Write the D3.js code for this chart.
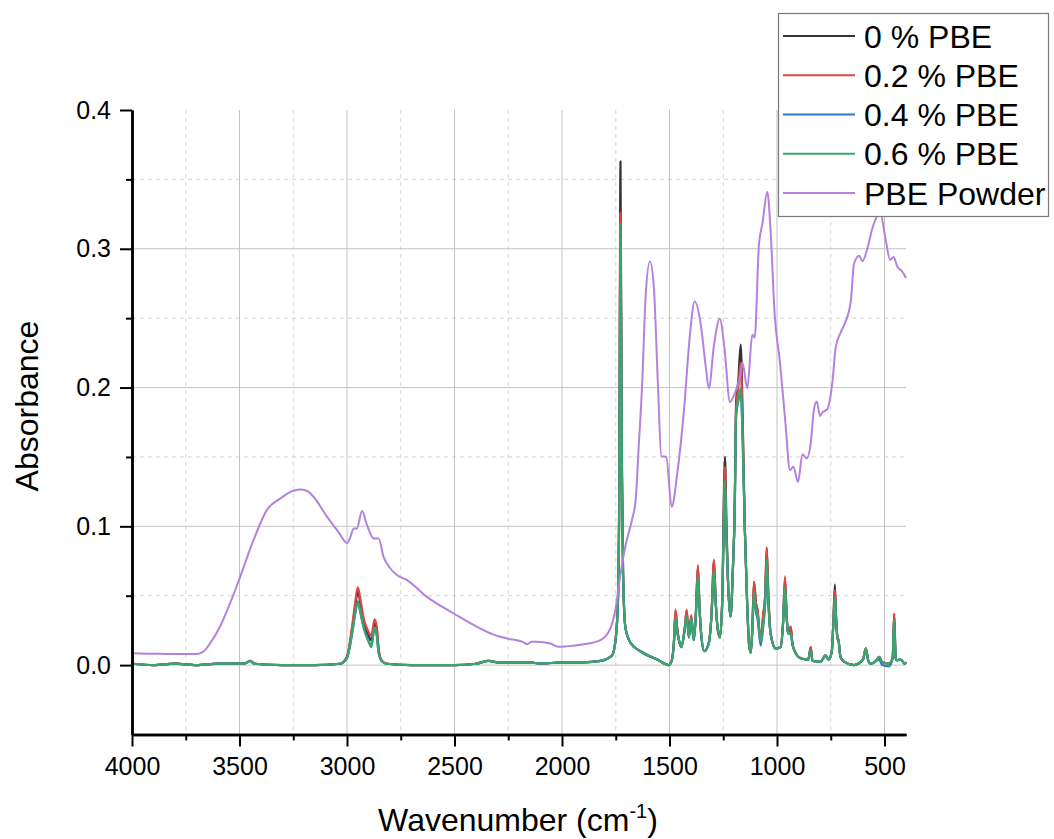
<!DOCTYPE html>
<html>
<head>
<meta charset="utf-8">
<script src="https://cdn.jsdelivr.net/npm/d3@7"></script>
<style>
  html, body { margin: 0; padding: 0; background: #fff; }
  svg { display: block; font-family: "Liberation Sans", Arial, sans-serif; }
</style>
</head>
<body>
<svg id="chart" width="1054" height="839"></svg>
<script>
// ---- Series names and colours ----
const seriesNames = ["0 % PBE", "0.2 % PBE", "0.4 % PBE", "0.6 % PBE", "PBE Powder"];
const seriesColors = ["#333333", "#e0463f", "#2c78c0", "#3ba56c", "#b382de"];

// ---- Axis ticks ----
const xMajorTicks = [4000, 3500, 3000, 2500, 2000, 1500, 1000, 500];
const xMinorTicks = [3750, 3250, 2750, 2250, 1750, 1250, 750];
const yMajorTicks = [0.0, 0.1, 0.2, 0.3, 0.4];
const yMinorTicks = [-0.05, 0.05, 0.15, 0.25, 0.35];

// ---- Film spectra: shared wavenumber grid (cm-1) ----
const filmWavenumbers = [
  4000, 3900, 3800, 3700, 3600, 3480, 3450, 3430, 3300, 3150,
  3032, 3000, 2977, 2962, 2950, 2935, 2923, 2900, 2887, 2872,
  2862, 2853, 2838, 2814, 2700, 2500, 2400, 2340, 2300, 2200,
  2150, 2100, 2000, 1900, 1821, 1767, 1751, 1740, 1733, 1728,
  1722, 1716, 1705, 1681, 1635, 1557, 1503, 1490, 1480, 1472,
  1465, 1456, 1445, 1430, 1420, 1410, 1399, 1387, 1378, 1368,
  1360, 1353, 1338, 1317, 1305, 1293, 1285, 1275, 1265, 1255,
  1242, 1235, 1228, 1216, 1205, 1197, 1190, 1180, 1169, 1160,
  1150, 1140, 1130, 1122, 1115, 1107, 1098, 1091, 1076, 1064,
  1055, 1048, 1040, 1030, 1006, 983, 972, 963, 955, 949,
  936, 928, 920, 890, 855, 843, 835, 797, 774, 760,
  745, 738, 731, 724, 719, 714, 705, 688, 642, 600,
  587, 575, 564, 540, 525, 510, 480, 462, 455, 448,
  443, 425, 405, 400
];

// Absorbance, 0 % PBE
const pbe00 = [
  0.001, 0.000, 0.001, 0.000, 0.001, 0.001, 0.003, 0.001, 0.000, 0.000,
  0.001, 0.006, 0.025, 0.042, 0.053, 0.042, 0.031, 0.021, 0.018, 0.030,
  0.026, 0.011, 0.003, 0.001, 0.000, 0.000, 0.001, 0.003, 0.002, 0.002,
  0.002, 0.001, 0.002, 0.002, 0.003, 0.007, 0.018, 0.045, 0.150, 0.363,
  0.160, 0.066, 0.027, 0.016, 0.010, 0.004, 0.000, 0.003, 0.015, 0.039,
  0.028, 0.018, 0.013, 0.025, 0.039, 0.020, 0.035, 0.018, 0.035, 0.071,
  0.040, 0.023, 0.010, 0.016, 0.035, 0.075, 0.045, 0.025, 0.020, 0.045,
  0.150, 0.100, 0.061, 0.035, 0.070, 0.110, 0.190, 0.205, 0.231, 0.180,
  0.100, 0.050, 0.015, 0.009, 0.025, 0.060, 0.045, 0.040, 0.018, 0.036,
  0.050, 0.084, 0.050, 0.023, 0.012, 0.013, 0.030, 0.062, 0.035, 0.023,
  0.027, 0.015, 0.011, 0.005, 0.004, 0.013, 0.003, 0.0025, 0.007, 0.004,
  0.010, 0.030, 0.058, 0.030, 0.020, 0.018, 0.006, 0.0025, 0.000, 0.004,
  0.012, 0.003, 0.001, 0.003, 0.006, 0.002, 0.001, 0.005, 0.037, 0.005,
  0.0035, 0.004, 0.001, 0.002
];

// Absorbance, 0.2 % PBE
const pbe02 = [
  0.001, 0.000, 0.001, 0.000, 0.001, 0.001, 0.003, 0.001, 0.000, 0.000,
  0.001, 0.006, 0.027, 0.045, 0.056, 0.045, 0.034, 0.024, 0.021, 0.033,
  0.028, 0.012, 0.003, 0.001, 0.000, 0.000, 0.001, 0.003, 0.002, 0.002,
  0.002, 0.001, 0.002, 0.002, 0.003, 0.007, 0.018, 0.045, 0.140, 0.326,
  0.150, 0.066, 0.027, 0.016, 0.010, 0.004, 0.000, 0.003, 0.015, 0.040,
  0.028, 0.018, 0.013, 0.025, 0.040, 0.020, 0.036, 0.018, 0.035, 0.072,
  0.040, 0.023, 0.010, 0.016, 0.035, 0.076, 0.045, 0.025, 0.020, 0.045,
  0.143, 0.096, 0.061, 0.035, 0.070, 0.110, 0.185, 0.200, 0.218, 0.175,
  0.100, 0.050, 0.015, 0.009, 0.025, 0.060, 0.045, 0.040, 0.018, 0.037,
  0.050, 0.085, 0.050, 0.023, 0.012, 0.013, 0.030, 0.064, 0.035, 0.023,
  0.028, 0.015, 0.011, 0.005, 0.004, 0.013, 0.003, 0.0025, 0.007, 0.004,
  0.010, 0.030, 0.054, 0.030, 0.021, 0.018, 0.006, 0.0025, 0.000, 0.004,
  0.012, 0.003, 0.001, 0.003, 0.006, 0.002, 0.001, 0.005, 0.037, 0.005,
  0.0035, 0.004, 0.001, 0.002
];

// Absorbance, 0.4 % PBE
const pbe04 = [
  0.001, 0.000, 0.001, 0.000, 0.001, 0.001, 0.003, 0.001, 0.000, 0.000,
  0.001, 0.005, 0.022, 0.037, 0.046, 0.036, 0.028, 0.018, 0.014, 0.026,
  0.022, 0.009, 0.003, 0.001, 0.000, 0.000, 0.001, 0.003, 0.002, 0.002,
  0.002, 0.001, 0.002, 0.002, 0.003, 0.007, 0.018, 0.045, 0.135, 0.316,
  0.145, 0.066, 0.027, 0.016, 0.010, 0.004, 0.000, 0.003, 0.015, 0.033,
  0.024, 0.018, 0.013, 0.025, 0.034, 0.020, 0.033, 0.018, 0.035, 0.063,
  0.040, 0.023, 0.010, 0.016, 0.035, 0.067, 0.045, 0.025, 0.020, 0.045,
  0.132, 0.090, 0.061, 0.035, 0.070, 0.110, 0.180, 0.190, 0.198, 0.165,
  0.100, 0.050, 0.015, 0.009, 0.025, 0.051, 0.038, 0.034, 0.014, 0.028,
  0.044, 0.074, 0.044, 0.023, 0.012, 0.013, 0.030, 0.054, 0.035, 0.023,
  0.022, 0.015, 0.011, 0.005, 0.004, 0.011, 0.003, 0.0025, 0.007, 0.004,
  0.010, 0.030, 0.048, 0.030, 0.018, 0.018, 0.006, 0.0025, 0.000, 0.004,
  0.011, 0.003, 0.001, 0.003, 0.004, 0.000, -0.001, 0.005, 0.031, 0.005,
  0.0035, 0.004, 0.001, 0.002
];

// Absorbance, 0.6 % PBE
const pbe06 = [
  0.001, 0.000, 0.001, 0.000, 0.001, 0.001, 0.003, 0.001, 0.000, 0.000,
  0.001, 0.005, 0.022, 0.037, 0.045, 0.036, 0.027, 0.017, 0.013, 0.027,
  0.022, 0.009, 0.003, 0.001, 0.000, 0.000, 0.001, 0.003, 0.002, 0.002,
  0.002, 0.001, 0.002, 0.002, 0.003, 0.007, 0.018, 0.045, 0.135, 0.318,
  0.145, 0.066, 0.027, 0.016, 0.010, 0.004, 0.000, 0.003, 0.015, 0.034,
  0.025, 0.018, 0.013, 0.025, 0.035, 0.020, 0.034, 0.018, 0.035, 0.064,
  0.040, 0.023, 0.010, 0.016, 0.035, 0.068, 0.045, 0.025, 0.020, 0.045,
  0.133, 0.090, 0.061, 0.035, 0.070, 0.110, 0.182, 0.192, 0.199, 0.165,
  0.100, 0.050, 0.015, 0.009, 0.025, 0.052, 0.040, 0.036, 0.017, 0.030,
  0.045, 0.076, 0.045, 0.023, 0.012, 0.013, 0.030, 0.056, 0.035, 0.023,
  0.023, 0.015, 0.011, 0.005, 0.004, 0.011, 0.003, 0.0025, 0.007, 0.004,
  0.010, 0.030, 0.049, 0.030, 0.019, 0.018, 0.006, 0.0025, 0.000, 0.004,
  0.012, 0.003, 0.001, 0.003, 0.006, 0.002, 0.001, 0.005, 0.032, 0.005,
  0.0035, 0.004, 0.001, 0.002
];

// ---- PBE powder spectrum ----
const powderWavenumbers = [
  4000, 3900, 3800, 3700, 3670, 3637, 3590, 3544, 3497, 3435,
  3373, 3311, 3260, 3220, 3187, 3156, 3093, 3040, 3000, 2985,
  2969, 2954, 2930, 2907, 2876, 2853, 2830, 2800, 2768, 2721,
  2628, 2504, 2349, 2300, 2255, 2180, 2162, 2140, 2116, 2054,
  2015, 1980, 1900, 1821, 1774, 1751, 1728, 1705, 1673, 1658,
  1643, 1627, 1611, 1591, 1573, 1554, 1538, 1515, 1490, 1464,
  1433, 1405, 1383, 1355, 1332, 1317, 1293, 1266, 1244, 1219,
  1200, 1172, 1161, 1138, 1115, 1104, 1084, 1068, 1045, 1030,
  1011, 986, 960, 940, 924, 902, 882, 862, 843, 828,
  815, 800, 789, 766, 742, 727, 703, 688, 657, 642,
  618, 603, 580, 556, 520, 494, 474, 458, 440, 420,
  400
];
const powderAbsorbance = [
  0.0085, 0.0082, 0.0080, 0.0080, 0.0095, 0.0156, 0.028, 0.0445, 0.0636, 0.090,
  0.1117, 0.120, 0.125, 0.1266, 0.1256, 0.1213, 0.107, 0.096, 0.088, 0.092,
  0.0985, 0.0985, 0.111, 0.1009, 0.0913, 0.0913, 0.078, 0.070, 0.0649, 0.0613,
  0.0492, 0.0372, 0.024, 0.021, 0.0192, 0.0165, 0.0150, 0.0168, 0.0168, 0.0156,
  0.0132, 0.0135, 0.0150, 0.018, 0.0268, 0.0406, 0.0656, 0.0858, 0.1056, 0.118,
  0.158, 0.203, 0.266, 0.2908, 0.273, 0.203, 0.1506, 0.150, 0.114, 0.138,
  0.183, 0.238, 0.262, 0.246, 0.216, 0.1994, 0.2307, 0.2495, 0.228, 0.1895,
  0.1944, 0.208, 0.218, 0.1994, 0.238, 0.236, 0.303, 0.318, 0.341, 0.3135,
  0.253, 0.218, 0.173, 0.1406, 0.143, 0.1319, 0.152, 0.149, 0.160, 0.1845,
  0.190, 0.1795, 0.182, 0.1845, 0.2044, 0.229, 0.240, 0.245, 0.262, 0.289,
  0.295, 0.291, 0.300, 0.315, 0.326, 0.306, 0.292, 0.294, 0.287, 0.284,
  0.279
];

// ---- Layout ----
const svg = d3.select("#chart");
const x = d3.scaleLinear().domain([4000, 400]).range([132, 906]);
const y = d3.scaleLinear().domain([-0.05, 0.4]).range([734.5, 110]);
const [xLeft, xRight] = x.range();
const [yBottom, yTop] = y.range();

// Grid: dashed minor lines, solid major lines
const grid = svg.append("g");
grid.selectAll(".vminor").data(xMinorTicks).join("line")
  .attr("x1", d => x(d)).attr("x2", d => x(d))
  .attr("y1", yTop).attr("y2", yBottom)
  .attr("stroke", "#d4d4d4").attr("stroke-width", 1).attr("stroke-dasharray", "4,4");
grid.selectAll(".hminor").data(yMinorTicks.filter(d => d > -0.05)).join("line")
  .attr("x1", xLeft).attr("x2", xRight)
  .attr("y1", d => y(d)).attr("y2", d => y(d))
  .attr("stroke", "#d4d4d4").attr("stroke-width", 1).attr("stroke-dasharray", "4,4");
grid.selectAll(".vmajor").data(xMajorTicks.filter(d => d < 4000)).join("line")
  .attr("x1", d => x(d)).attr("x2", d => x(d))
  .attr("y1", yTop).attr("y2", yBottom)
  .attr("stroke", "#c4c4c4").attr("stroke-width", 1);
grid.selectAll(".hmajor").data(yMajorTicks.filter(d => d < 0.4)).join("line")
  .attr("x1", xLeft).attr("x2", xRight)
  .attr("y1", d => y(d)).attr("y2", d => y(d))
  .attr("stroke", "#c4c4c4").attr("stroke-width", 1);

// ---- Spectra ----
const line = d3.line()
  .x(d => x(d[0]))
  .y(d => y(d[1]))
  .curve(d3.curveMonotoneX);

const filmSeries = [pbe00, pbe02, pbe04, pbe06];
const plot = svg.append("g");
filmSeries.forEach((vals, i) => {
  const pts = filmWavenumbers.map((w, k) => [w, vals[k]]);
  plot.append("path")
    .attr("d", line(pts))
    .attr("fill", "none")
    .attr("stroke", seriesColors[i])
    .attr("stroke-width", 2.2)
    .attr("stroke-linejoin", "round");
});
plot.append("path")
  .attr("d", line(powderWavenumbers.map((w, k) => [w, powderAbsorbance[k]])))
  .attr("fill", "none")
  .attr("stroke", seriesColors[4])
  .attr("stroke-width", 2)
  .attr("stroke-linejoin", "round");

// ---- Axes ----
function styleAxis(g) {
  g.select(".domain").attr("stroke", "#000").attr("stroke-width", 2.5);
  g.selectAll(".tick line").attr("stroke", "#000").attr("stroke-width", 2);
  g.selectAll(".tick text").attr("fill", "#000").attr("font-size", 25)
    .attr("font-family", "'Liberation Sans', Arial, sans-serif");
}

const xAxisMinor = svg.append("g").attr("transform", `translate(0,${yBottom})`)
  .call(d3.axisBottom(x).tickValues(xMinorTicks).tickSize(6).tickSizeOuter(0).tickFormat(""));
styleAxis(xAxisMinor);
const xAxis = svg.append("g").attr("transform", `translate(0,${yBottom})`)
  .call(d3.axisBottom(x).tickValues(xMajorTicks).tickSize(12).tickSizeOuter(0).tickPadding(11)
    .tickFormat(d3.format("d")));
styleAxis(xAxis);

const yAxisMinor = svg.append("g").attr("transform", `translate(${xLeft},0)`)
  .call(d3.axisLeft(y).tickValues(yMinorTicks.filter(d => d > -0.05)).tickSize(6).tickSizeOuter(0).tickFormat(""));
styleAxis(yAxisMinor);
const yAxis = svg.append("g").attr("transform", `translate(${xLeft},0)`)
  .call(d3.axisLeft(y).tickValues(yMajorTicks).tickSize(12).tickSizeOuter(0).tickPadding(9)
    .tickFormat(d3.format(".1f")));
styleAxis(yAxis);

// Axis titles
const xTitle = svg.append("text")
  .attr("x", 518).attr("y", 831)
  .attr("text-anchor", "middle")
  .attr("font-size", 32).attr("fill", "#000");
xTitle.append("tspan").text("Wavenumber (cm");
xTitle.append("tspan").text("-1").attr("font-size", 20).attr("dy", -13);
xTitle.append("tspan").text(")").attr("dy", 13);

svg.append("text")
  .attr("transform", "translate(38,406) rotate(-90)")
  .attr("text-anchor", "middle")
  .attr("font-size", 32).attr("fill", "#000")
  .text("Absorbance");

// ---- Legend ----
const legend = svg.append("g");
legend.append("rect")
  .attr("x", 778.5).attr("y", 13.5).attr("width", 270).attr("height", 203)
  .attr("fill", "#fff").attr("stroke", "#7a7a7a").attr("stroke-width", 1.2);
const rowY = d3.scaleLinear().domain([0, 4]).range([36, 193]);
seriesNames.forEach((name, i) => {
  legend.append("line")
    .attr("x1", 783).attr("x2", 855)
    .attr("y1", rowY(i)).attr("y2", rowY(i))
    .attr("stroke", seriesColors[i]).attr("stroke-width", 2.2);
  legend.append("text")
    .attr("x", 864).attr("y", rowY(i) + 11.5)
    .attr("font-size", 32).attr("fill", "#000")
    .text(name);
});
</script>
</body>
</html>
